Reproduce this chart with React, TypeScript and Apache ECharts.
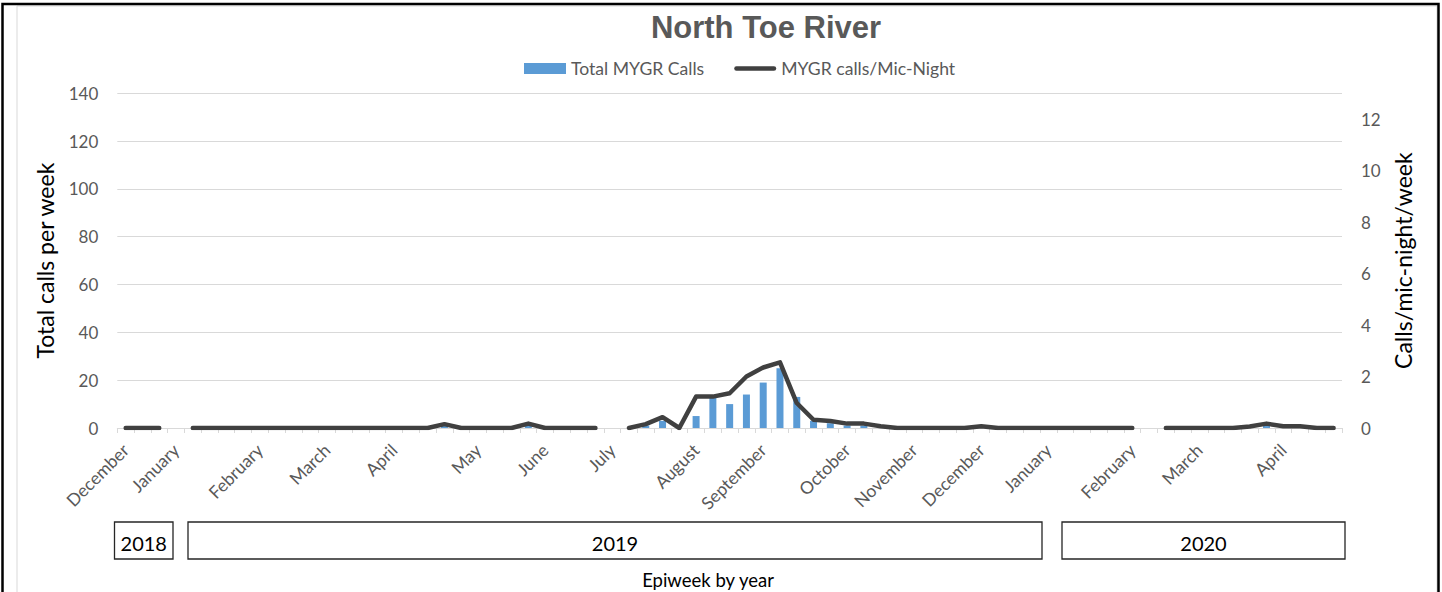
import React, { useEffect, useRef } from "react";
import * as echarts from "echarts";

const monthTicks: [number, string][] = [
  [0, "December"], [3, "January"], [8, "February"], [12, "March"], [16, "April"],
  [21, "May"], [25, "June"], [29, "July"], [34, "August"], [38, "September"],
  [43, "October"], [47, "November"], [51, "December"], [55, "January"],
  [60, "February"], [64, "March"], [69, "April"],
];

const WEEK_COUNT = 73;
const weeks: string[] = Array.from({ length: WEEK_COUNT }, (_, i) => "W" + i);

const totalCalls: (number | null)[] = [
  0, 0, 0, null, 0, 0, 0, 0, 0, 0,
  0, 0, 0, 0, 0, 0, 0, 0, 0, 1,
  0, 0, 0, 0, 1, 0, 0, 0, 0, null,
  0, 1, 3, 0, 5, 13, 10, 14, 19, 25,
  13, 3, 2, 1, 1, 0, 0, 0, 0, 0,
  0, 1, 0, 0, 0, 0, 0, 0, 0, 0,
  0, null, 0, 0, 0, 0, 0, 0, 1, 0,
  0, 0, 0,
];

const callsPerMicNight: (number | null)[] = [
  0, 0, 0, null, 0, 0, 0, 0, 0, 0,
  0, 0, 0, 0, 0, 0, 0, 0, 0, 0.15,
  0, 0, 0, 0, 0.17, 0, 0, 0, 0, null,
  0, 0.15, 0.42, 0, 1.22, 1.22, 1.35, 2.0, 2.35, 2.55,
  0.97, 0.32, 0.27, 0.17, 0.17, 0.07, 0, 0, 0, 0,
  0, 0.07, 0, 0, 0, 0, 0, 0, 0, 0,
  0, null, 0, 0, 0, 0, 0, 0.06, 0.17, 0.07,
  0.07, 0, 0,
];

const yearBoxes = [
  { label: "2018", x: 114.5, w: 58.5 },
  { label: "2019", x: 188, w: 854 },
  { label: "2020", x: 1062, w: 283 },
];

const FONT = "Lato, 'Open Sans', sans-serif";
const LINE_ICON = "path://M2.25,0H39.75A2.25,2.25,0,0,1,39.75,4.5H2.25A2.25,2.25,0,0,1,2.25,0Z";

export default function App() {
  const ref = useRef<HTMLDivElement>(null);
  useEffect(() => {
    if (!ref.current) return;
    const chart = echarts.init(ref.current, undefined, { renderer: "svg" });
    const labelMap: Record<number, string> = {};
    monthTicks.forEach(([i, m]) => (labelMap[i] = m));

    const graphics: any[] = [
      {
        type: "rect",
        shape: { x: 17, y: 6, width: 1420, height: 600 },
        style: { fill: "none", stroke: "#d9d9d9", lineWidth: 1 },
        silent: true,
      },
      {
        type: "rect",
        shape: { x: 2.5, y: 4, width: 1436, height: 600 },
        style: { fill: "none", stroke: "#000", lineWidth: 2.5 },
        silent: true,
      },
      {
        type: "text",
        x: 766,
        y: 27,
        style: {
          text: "North Toe River",
          font: "bold 31px 'Liberation Sans', Arial, sans-serif",
          fill: "#595959",
          textAlign: "center",
          textVerticalAlign: "middle",
        },
      },
      {
        type: "text",
        x: 708,
        y: 580,
        style: {
          text: "Epiweek by year",
          font: "18.5px " + FONT,
          fill: "#000",
          textAlign: "center",
          textVerticalAlign: "middle",
        },
      },
    ];
    yearBoxes.forEach((b) => {
      graphics.push({
        type: "rect",
        shape: { x: b.x, y: 522, width: b.w, height: 37 },
        style: { fill: "#fff", stroke: "#262626", lineWidth: 1.3 },
      });
      graphics.push({
        type: "text",
        x: b.x + b.w / 2,
        y: 543,
        style: {
          text: b.label,
          font: "20px " + FONT,
          fill: "#000",
          textAlign: "center",
          textVerticalAlign: "middle",
        },
      });
    });

    chart.setOption({
      animation: false,
      backgroundColor: "#fff",
      textStyle: { fontFamily: FONT },
      grid: { left: 117.3, right: 100, top: 93.3, bottom: 164, containLabel: false },
      legend: {
        left: 519,
        top: 54.5,
        itemWidth: 42,
        itemHeight: 11,
        itemGap: 30,
        symbolKeepAspect: true,
        textStyle: { fontSize: 17.6, color: "#595959", fontFamily: FONT },
        data: [
          { name: "Total MYGR Calls", icon: "rect" },
          { name: "MYGR calls/Mic-Night", icon: LINE_ICON, itemStyle: { color: "#404040" } },
        ],
      },
      xAxis: {
        type: "category",
        data: weeks,
        boundaryGap: true,
        axisLine: { lineStyle: { color: "#d9d9d9", width: 1 } },
        axisTick: { show: true, interval: 0, length: 5, lineStyle: { color: "#d9d9d9" } },
        axisLabel: {
          interval: 0,
          rotate: 45,
          margin: 19,
          verticalAlign: "middle",
          padding: [10, 0, 0, 0],
          fontSize: 17.5,
          color: "#595959",
          fontFamily: FONT,
          formatter: (_v: string, i: number) => labelMap[i] || "",
        },
        splitLine: { show: false },
      },
      yAxis: [
        {
          type: "value",
          min: 0,
          max: 140,
          interval: 20,
          name: "Total calls per week",
          nameLocation: "middle",
          nameGap: 61,
          nameRotate: 90,
          nameTextStyle: { fontSize: 23, color: "#000", fontFamily: FONT },
          axisLine: { show: false },
          axisTick: { show: false },
          axisLabel: { fontSize: 17, color: "#595959", margin: 19, fontFamily: FONT },
          splitLine: { lineStyle: { color: "#d9d9d9", width: 1 } },
        },
        {
          type: "value",
          min: 0,
          max: 13,
          interval: 2,
          position: "right",
          name: "Calls/mic-night/week",
          nameLocation: "middle",
          nameGap: 48,
          nameRotate: 90,
          nameTextStyle: { fontSize: 23, color: "#000", fontFamily: FONT },
          axisLine: { show: false },
          axisTick: { show: false },
          axisLabel: { fontSize: 17, color: "#595959", margin: 19, showMaxLabel: false, fontFamily: FONT },
          splitLine: { show: false },
        },
      ],
      series: [
        {
          name: "Total MYGR Calls",
          type: "bar",
          yAxisIndex: 0,
          data: totalCalls,
          barWidth: 7,
          itemStyle: { color: "#5b9bd5" },
        },
        {
          name: "MYGR calls/Mic-Night",
          type: "line",
          yAxisIndex: 1,
          data: callsPerMicNight,
          symbol: "none",
          connectNulls: false,
          lineStyle: { color: "#404040", width: 4.5, join: "round", cap: "round" },
          itemStyle: { color: "#404040" },
        },
      ],
      graphic: graphics,
    });
    return () => chart.dispose();
  }, []);
  return (
    <div
      ref={ref}
      style={{ position: "absolute", left: 0, top: 0, width: 1442, height: 592 }}
    />
  );
}
